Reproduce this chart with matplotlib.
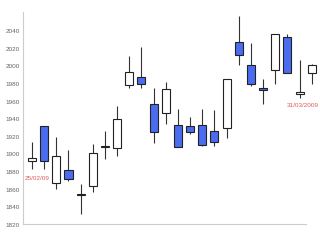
import matplotlib
matplotlib.use("Agg")
import matplotlib.pyplot as plt
import numpy as np

# daily OHLC, 25/02/2009 .. 31/03/2009
opens = [1891, 1931, 1866, 1881, 1853, 1863, 1907, 1906, 1978, 1987, 1956, 1946,
         1932, 1931, 1932, 1926, 1929, 2027, 2000, 1974, 1995, 2032, 1967, 1991]
highs = [1913, 1931, 1919, 1904, 1865, 1911, 1925, 1954, 2011, 2021, 1974, 1981,
         1950, 1941, 1951, 1949, 1984, 2056, 2025, 1984, 2036, 2035, 2006, 2002]
lows = [1882, 1882, 1860, 1869, 1831, 1856, 1894, 1897, 1974, 1974, 1912, 1933,
        1907, 1922, 1909, 1908, 1918, 2000, 1976, 1956, 1979, 1991, 1963, 1979]
closes = [1895, 1891, 1897, 1871, 1854, 1901, 1908, 1939, 1992, 1979, 1924, 1973,
          1907, 1924, 1910, 1913, 1984, 2012, 1979, 1972, 2035, 1991, 1970, 2000]
yticks = [1820, 1840, 1860, 1880, 1900, 1920, 1940, 1960, 1980, 2000, 2020, 2040]
first_label = "25/02/09"
last_label = "31/03/2009"

plt.rcParams["font.family"] = ["Liberation Sans Narrow", "Liberation Sans", "DejaVu Sans"]

fig = plt.figure(figsize=(3.2, 2.53), dpi=100)
ax = fig.add_axes([23 / 320, 1 - 225 / 253, 297 / 320, 212 / 253])

x = np.arange(len(opens))
o = np.array(opens)
c = np.array(closes)
up = c >= o
bottom = np.minimum(o, c)
height = np.maximum(np.abs(c - o), 0.8)

ax.vlines(x, lows, highs, color="#333333", linewidth=0.8, zorder=1)
ax.bar(x, height, bottom=bottom, width=0.66,
       color=np.where(up, "white", "#4a6cf0"), edgecolor="#222222",
       linewidth=0.8, zorder=2)

ax.text(0.4, 1873, first_label, color="#e05a5a", fontsize=4.6,
        ha="center", va="center")
ax.text(22.3, 1956, last_label, color="#e05a5a", fontsize=4.6,
        ha="center", va="center", clip_on=False)

ax.set_xlim(-0.74, 23.68)
ax.set_ylim(1820, 2060.5)
ax.set_xticks([])
ax.set_yticks(yticks)
ax.tick_params(axis="y", length=0, pad=2.2, labelsize=4.6, labelcolor="#666666")
for side in ["top", "right"]:
    ax.spines[side].set_visible(False)
ax.spines["left"].set_color("#cccccc")
ax.spines["bottom"].set_color("#cccccc")
ax.spines["left"].set_linewidth(0.8)
ax.spines["bottom"].set_linewidth(0.8)
ax.spines["bottom"].set_bounds(-0.74, 22.53)

fig.savefig("out.png", dpi=100)
